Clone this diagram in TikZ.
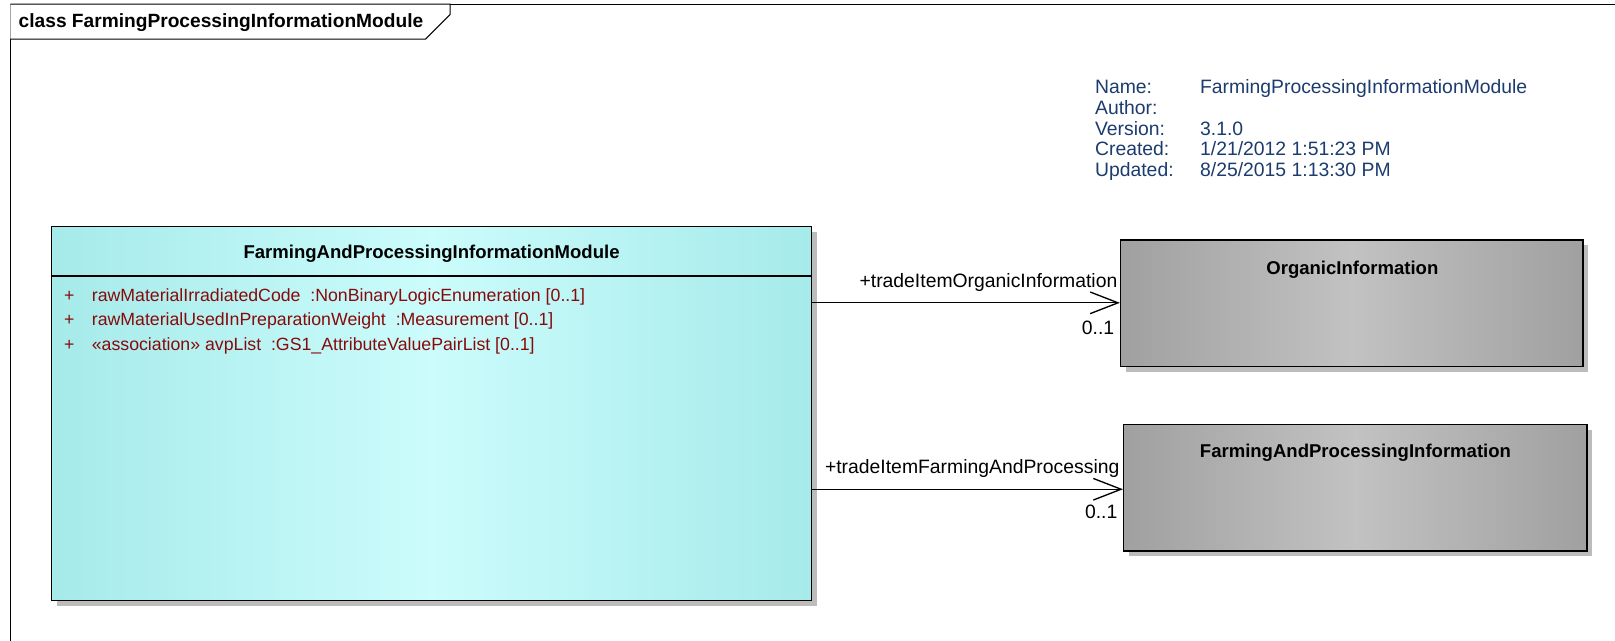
\documentclass[tikz,border=0pt]{standalone}
\usepackage{fontspec}
\setmainfont{Liberation Sans}
\usetikzlibrary{arrows.meta,positioning,shadows}

\definecolor{metablue}{RGB}{28,60,110}
\definecolor{attrred}{RGB}{135,10,10}
\definecolor{cyanedge}{RGB}{166,234,234}
\definecolor{cyanmid}{RGB}{204,252,252}
\definecolor{grayedge}{RGB}{160,160,160}
\definecolor{graymid}{RGB}{194,194,194}
\definecolor{shadowgray}{RGB}{188,188,188}

\tikzset{
  classbox/.style={draw=black,line width=1.5pt,inner sep=0pt,
    drop shadow={shadow xshift=5pt,shadow yshift=-5pt,fill=shadowgray,opacity=1}},
  cyanclass/.style={classbox,left color=cyanedge,right color=cyanedge,middle color=cyanmid},
  grayclass/.style={classbox,left color=grayedge,right color=grayedge,middle color=graymid},
  classtitle/.style={inner sep=0pt,font=\bfseries\fontsize{18}{20}\selectfont},
  attr/.style={inner sep=0pt,anchor=west,text=attrred,font=\fontsize{17.2}{20}\selectfont},
  rolelbl/.style={inner sep=0pt,anchor=east,font=\fontsize{18.8}{20}\selectfont},
  assoc/.style={line width=1.3pt,-{Straight Barb[length=27pt,width=21pt]}}
}

\begin{document}
\begin{tikzpicture}[x=1pt,y=-1pt]
\useasboundingbox[fill=white] (0,0) rectangle (1568,622);
% frame and tab
\draw[line width=1pt] (1600,4) -- (10,4) -- (10,640);
\draw[line width=1pt,fill=white] (10,4) -- (437,4) -- (437,14) -- (413,38) -- (10,38);
\node[inner sep=0pt,anchor=west,font=\bfseries\fontsize{18.6}{20}\selectfont] (frametitle) at (18,22) {class FarmingProcessingInformationModule};

% diagram properties
\node[inner sep=0pt,anchor=north west,text=metablue,font=\fontsize{18.8}{20}\selectfont] (props) at (1063,77) {%
\begin{tabular}{@{}p{102pt}@{}l@{}}
Name: & FarmingProcessingInformationModule\\
Author: & \\
Version: & 3.1.0\\
Created: & 1/21/2012 1:51:23 PM\\
Updated: & 8/25/2015 1:13:30 PM
\end{tabular}};

% classes
\node[cyanclass,minimum width=738pt,minimum height=363pt] (fapim) at (419,401.5) {};
\node[classtitle] (fapimtitle) at (419,246) {FarmingAndProcessingInformationModule};
\draw[line width=1.5pt] (fapim.west |- 0,268) -- (fapim.east |- 0,268);
\node[attr] (attrone) at (62,288) {\makebox[27pt][l]{+}rawMaterialIrradiatedCode \ :NonBinaryLogicEnumeration [0..1]};
\node[attr] (attrtwo) at (62,312) {\makebox[27pt][l]{+}rawMaterialUsedInPreparationWeight \ :Measurement [0..1]};
\node[attr] (attrthree) at (62,336) {\makebox[27pt][l]{+}«association» avpList \ :GS1\_AttributeValuePairList [0..1]};

\node[grayclass,minimum width=449pt,minimum height=123pt] (orginfo) at (1312.5,294.5) {};
\node[classtitle] (orgtitle) at (1313,262) {OrganicInformation};

\node[grayclass,minimum width=450pt,minimum height=123pt] (fapinfo) at (1316,473.5) {};
\node[classtitle] (fapinfotitle) at (1316,440) {FarmingAndProcessingInformation};

% associations
\draw[assoc] (fapim.east |- 0,294) -- (orginfo.west |- 0,294);
\node[rolelbl] (orgrole) at (1085,274) {+tradeItemOrganicInformation};
\node[rolelbl] (orgmult) at (1082,318) {0..1};
\draw[assoc] (fapim.east |- 0,475) -- (fapinfo.west |- 0,475);
\node[rolelbl] (faprole) at (1087,455) {+tradeItemFarmingAndProcessing};
\node[rolelbl] (fapmult) at (1085,497) {0..1};
\end{tikzpicture}
\end{document}
